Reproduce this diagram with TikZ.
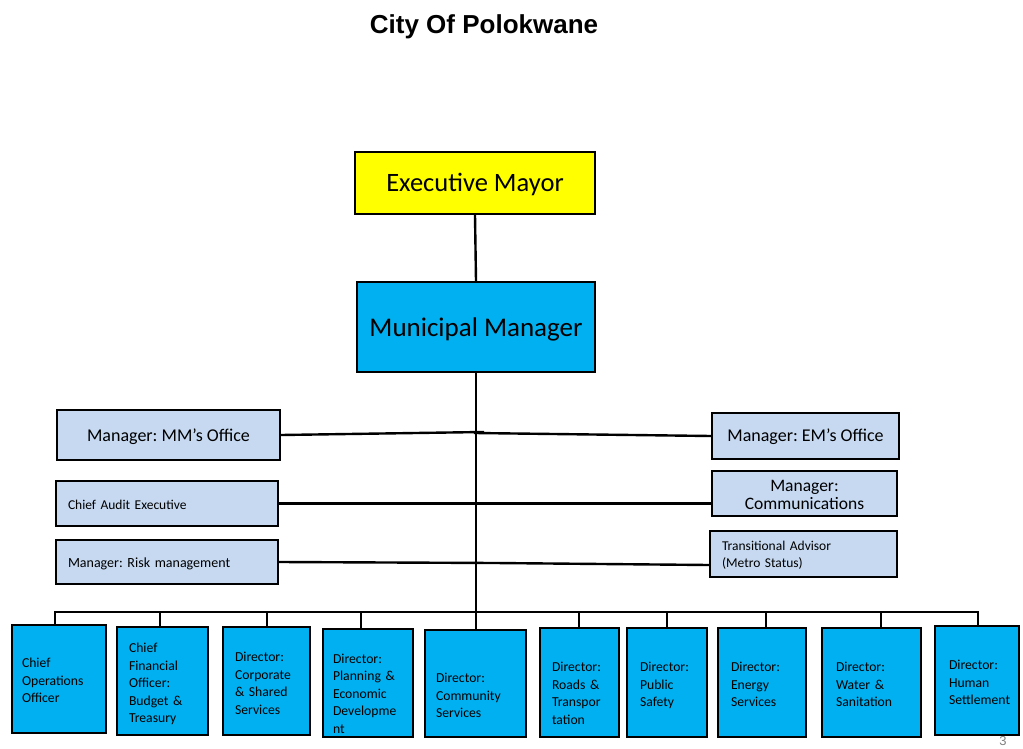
\documentclass[tikz,border=0pt]{standalone}
\usepackage{fontspec}
\setmainfont{Carlito}
\newfontfamily\titlefont{Liberation Sans}
\definecolor{mayorfill}{HTML}{FFFF00}
\definecolor{cyanbox}{HTML}{00B0F0}
\definecolor{lightbox}{HTML}{C6D9F1}
\hyphenpenalty=10000
\exhyphenpenalty=10000
\frenchspacing
\newcommand\fl[1]{\rule{0pt}{#1pt}}
\newcommand\ld{\rule[-4pt]{0pt}{4pt}}
\begin{document}
\begin{tikzpicture}[x=1pt,y=-1pt,
  box/.style={draw=black, line width=2.6pt, inner sep=0pt, text=black},
  topbox/.style={box, align=center, font=\fontsize{27}{32}\selectfont},
  side/.style={box, fill=lightbox},
  bot/.style={box, fill=cyanbox, align=left, font=\fontsize{13.7}{17.5}\selectfont\frenchspacing},
  conn/.style={line width=2.4pt, draw=black, line cap=rect, line join=miter}]
\useasboundingbox (0,0) rectangle (1023,749);

% title
\node[font=\titlefont\bfseries\fontsize{26}{30}\selectfont] (title) at (484,27) {City Of Polokwane};

% top boxes
\node[topbox, fill=mayorfill, minimum width=240pt, minimum height=62pt, font=\fontsize{26.5}{32}\selectfont] (em) at (475,183) {\fl{22}Executive Mayor};
\node[topbox, fill=cyanbox, minimum width=238pt, minimum height=90pt] (mm) at (476,327) {\fl{23}Municipal Manager};

% side boxes
\node[side, minimum width=223pt, minimum height=50pt, font=\fontsize{18}{22}\selectfont] (mmo) at (168.5,435) {\fl{16}Manager: MM’s Office};
\node[side, minimum width=187pt, minimum height=46pt, font=\fontsize{18}{22}\selectfont] (emo) at (805.5,436) {\fl{15}Manager: EM’s Office};
\node[side, minimum width=222pt, minimum height=45pt, text width=198pt, align=left, font=\fontsize{13.5}{17}\selectfont] (cae) at (167,503.5) {\fl{13}Chief Audit Executive};
\node[side, minimum width=185pt, minimum height=45pt, align=center, font=\fontsize{17.5}{18}\selectfont] (com) at (804.5,493.5) {\fl{14}Manager:\\Communications};
\node[side, minimum width=222pt, minimum height=44pt, text width=198pt, align=left, font=\fontsize{14}{17}\selectfont] (risk) at (167,562) {\fl{14}Manager: Risk management};
\node[side, minimum width=187pt, minimum height=46pt, text width=163pt, align=left, font=\fontsize{13.5}{17}\selectfont] (ta) at (803.5,554) {\fl{12}Transitional Advisor\\(Metro Status)};

% bottom boxes
\node[bot, minimum width=94pt, minimum height=108pt, text width=74pt] (b1) at (59,679) {\fl{16}Chief\\Operations\\Officer\ld};
\node[bot, minimum width=91pt, minimum height=108pt, text width=67pt] (b2) at (162.5,681) {\fl{17}Chief\\Financial\\Officer:\\Budget \&\\Treasury\ld};
\node[bot, minimum width=87pt, minimum height=108pt, text width=63pt] (b3) at (266.5,681) {\fl{17.5}Director:\\Corporate\\\& Shared\\Services\ld};
\node[bot, minimum width=90pt, minimum height=108pt, text width=70pt] (b4) at (368,683) {\fl{34}Director:\\Planning \&\\Economic\\Developme\\nt\ld};
\node[bot, minimum width=101pt, minimum height=107pt, text width=79pt] (b5) at (475.5,683.5) {\fl{37}Director:\\Community\\Services\ld};
\node[bot, minimum width=79pt, minimum height=109pt, text width=55pt] (b6) at (579.5,682.5) {\fl{34.5}Director:\\Roads \&\\Transpor\\tation\ld};
\node[bot, minimum width=80pt, minimum height=109pt, text width=54pt] (b7) at (667,682.5) {\fl{17}Director:\\Public\\Safety\ld};
\node[bot, minimum width=88pt, minimum height=109pt, text width=62pt] (b8) at (762,682.5) {\fl{17}Director:\\Energy\\Services\ld};
\node[bot, minimum width=99pt, minimum height=109pt, text width=71pt] (b9) at (871.5,682.5) {\fl{17}Director:\\Water \&\\Sanitation\ld};
\node[bot, minimum width=84pt, minimum height=109pt, text width=56pt] (b10) at (977,680.5) {\fl{17}Director:\\Human\\Settlement\ld};

% page number
\node[font=\titlefont\fontsize{13}{13}\selectfont, text=gray] (pg) at (1003,741) {3};

% connectors
\draw[conn] (em.south) -- (mm.north);
\draw[conn] (mm.south) -- (mm.south |- b5.north);
\coordinate (jm) at (483,432);
\coordinate (je) at (475,433);
\coordinate (jr) at (495,563);
\draw[conn] (mmo.east) -- (jm);
\draw[conn] (je) -- (emo.west);
\draw[conn] (cae.east) -- (cae.east -| com.west);
\draw[conn] (risk.east) -- (jr) -- ([yshift=-11pt]ta.west);

\coordinate (d1) at (55,612);
\coordinate (d2) at (160,612);
\coordinate (d3) at (267,612);
\coordinate (d4) at (361,612);
\coordinate (d6) at (579,612);
\coordinate (d7) at (667,612);
\coordinate (d8) at (766,612);
\coordinate (d9) at (881,612);
\coordinate (d10) at (978,612);
\draw[conn] (d1 |- b1.north) -- (d1) -- (d10) -- (d10 |- b10.north);
\foreach \i in {2,3,4,6,7,8,9} {
  \draw[conn] (d\i) -- (d\i |- b\i.north);
}
\end{tikzpicture}
\end{document}
